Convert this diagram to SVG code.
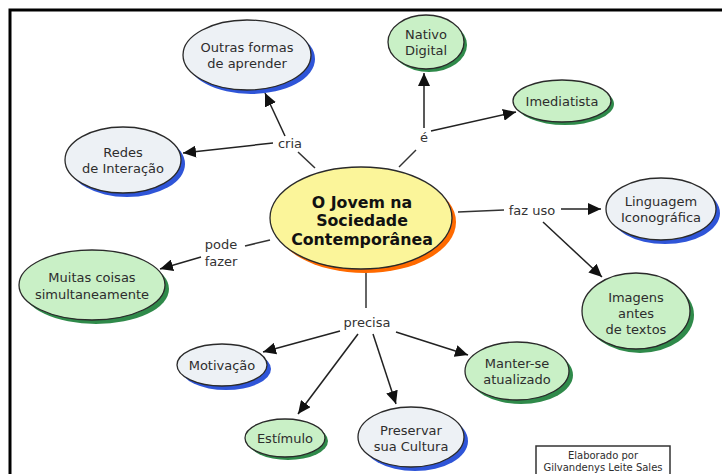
<svg xmlns="http://www.w3.org/2000/svg" width="722" height="474" viewBox="0 0 722 474">
<defs>
<marker id="arr" markerUnits="userSpaceOnUse" markerWidth="14" markerHeight="12" refX="13" refY="6" orient="auto">
<path d="M0,0 L13,6 L0,12 Z" fill="#111"/>
</marker>
<style>
.blue .sh{fill:#2f55d8}
.blue .bd{fill:#edf1f5;stroke:#2a2a2a;stroke-width:1.3}
.green .sh{fill:#2f8a4a}
.green .bd{fill:#c9f0c6;stroke:#2a2a2a;stroke-width:1.3}
.t{font-family:"DejaVu Sans",Verdana,sans-serif;font-size:13px;fill:#2d2d2d;text-anchor:middle;dominant-baseline:central}
.lbl{font-family:"DejaVu Sans",Verdana,sans-serif;font-size:13px;fill:#333;text-anchor:middle;dominant-baseline:central}
.ln{stroke:#333;stroke-width:1.5;fill:none}
.ar{stroke:#222;stroke-width:1.5;fill:none;marker-end:url(#arr)}
</style>
</defs>
<rect width="722" height="474" fill="#fff"/>
<path d="M10,474 V10 H722" fill="none" stroke="#000" stroke-width="3"/>

<g id="connectors">
<line class="ln" x1="315" y1="168" x2="298" y2="152"/>
<line class="ar" x1="285" y1="136" x2="265" y2="93"/>
<line class="ar" x1="273" y1="143" x2="183" y2="153"/>
<line class="ln" x1="399" y1="167" x2="416" y2="150"/>
<line class="ar" x1="424" y1="128" x2="424" y2="73"/>
<line class="ar" x1="431" y1="131" x2="516" y2="112"/>
<line class="ln" x1="458" y1="212" x2="504" y2="210"/>
<line class="ar" x1="561" y1="209" x2="601" y2="209"/>
<line class="ar" x1="543" y1="222" x2="602" y2="277"/>
<line class="ln" x1="270" y1="240" x2="245" y2="246"/>
<line class="ar" x1="201" y1="257" x2="160" y2="269"/>
<line class="ln" x1="366" y1="272" x2="366" y2="308"/>
<line class="ar" x1="340" y1="331" x2="263" y2="352"/>
<line class="ar" x1="358" y1="334" x2="298" y2="414"/>
<line class="ar" x1="373" y1="334" x2="396" y2="404"/>
<line class="ar" x1="396" y1="332" x2="468" y2="355"/>
<text class="lbl" x="290" y="143">cria</text>
<text class="lbl" x="424" y="137">é</text>
<text class="lbl" x="532" y="210">faz uso</text>
<text class="lbl" x="221" y="244">pode</text>
<text class="lbl" x="221" y="261">fazer</text>
<text class="lbl" x="367" y="322">precisa</text>
</g>

<g id="center">
<ellipse cx="365" cy="222" rx="91" ry="51" fill="#ff6a00"/>
<ellipse cx="361" cy="218" rx="91" ry="51" fill="#fbf59a" stroke="#2a2a2a" stroke-width="1.3"/>
<text class="t" x="362" y="202" style="font-weight:bold;font-size:15.8px;fill:#111">O Jovem na</text>
<text class="t" x="362" y="220" style="font-weight:bold;font-size:15.8px;fill:#111">Sociedade</text>
<text class="t" x="362" y="239" style="font-weight:bold;font-size:15.8px;fill:#111">Contemporânea</text>
</g>

<g id="outras" class="blue">
<ellipse class="sh" cx="251" cy="59" rx="64" ry="35"/>
<ellipse class="bd" cx="247" cy="55" rx="64" ry="35"/>
<text class="t" x="247" y="47">Outras formas</text>
<text class="t" x="247" y="63">de aprender</text>
</g>

<g id="redes" class="blue">
<ellipse class="sh" cx="127" cy="164" rx="58" ry="33"/>
<ellipse class="bd" cx="123" cy="160" rx="58" ry="33"/>
<text class="t" x="123" y="152">Redes</text>
<text class="t" x="123" y="168">de Interação</text>
</g>

<g id="nativo" class="green">
<ellipse class="sh" cx="429" cy="45" rx="38" ry="27"/>
<ellipse class="bd" cx="426" cy="42" rx="38" ry="27"/>
<text class="t" x="426" y="34">Nativo</text>
<text class="t" x="426" y="50">Digital</text>
</g>

<g id="imediatista" class="green">
<ellipse class="sh" cx="565" cy="104" rx="49" ry="21"/>
<ellipse class="bd" cx="562" cy="101" rx="49" ry="21"/>
<text class="t" x="562" y="101">Imediatista</text>
</g>

<g id="linguagem" class="blue">
<ellipse class="sh" cx="665" cy="213" rx="55" ry="31"/>
<ellipse class="bd" cx="661" cy="209" rx="55" ry="31"/>
<text class="t" x="661" y="201">Linguagem</text>
<text class="t" x="661" y="217">Iconográfica</text>
</g>

<g id="imagens" class="green">
<ellipse class="sh" cx="640" cy="315" rx="54" ry="38"/>
<ellipse class="bd" cx="636" cy="311" rx="54" ry="38"/>
<text class="t" x="636" y="297">Imagens</text>
<text class="t" x="636" y="313">antes</text>
<text class="t" x="636" y="329">de textos</text>
</g>

<g id="muitas" class="green">
<ellipse class="sh" cx="96" cy="289" rx="73" ry="35"/>
<ellipse class="bd" cx="92" cy="285" rx="73" ry="35"/>
<text class="t" x="92" y="277">Muitas coisas</text>
<text class="t" x="92" y="294">simultaneamente</text>
</g>

<g id="motivacao" class="blue">
<ellipse class="sh" cx="226" cy="369" rx="45" ry="21"/>
<ellipse class="bd" cx="222" cy="365" rx="45" ry="21"/>
<text class="t" x="222" y="365">Motivação</text>
</g>

<g id="estimulo" class="green">
<ellipse class="sh" cx="288" cy="441" rx="40" ry="19"/>
<ellipse class="bd" cx="285" cy="438" rx="40" ry="19"/>
<text class="t" x="285" y="438">Estímulo</text>
</g>

<g id="preservar" class="blue">
<ellipse class="sh" cx="415" cy="441" rx="53" ry="30"/>
<ellipse class="bd" cx="411" cy="437" rx="53" ry="30"/>
<text class="t" x="411" y="430">Preservar</text>
<text class="t" x="411" y="446">sua Cultura</text>
</g>

<g id="manter" class="green">
<ellipse class="sh" cx="521" cy="375" rx="52" ry="29"/>
<ellipse class="bd" cx="517" cy="371" rx="52" ry="29"/>
<text class="t" x="517" y="363">Manter-se</text>
<text class="t" x="517" y="379">atualizado</text>
</g>

<g id="credit">
<rect x="536" y="446" width="134" height="40" fill="#fff" stroke="#333" stroke-width="1.5"/>
<text class="t" x="603" y="455" style="font-size:10px">Elaborado por</text>
<text class="t" x="603" y="467" style="font-size:10px">Gilvandenys Leite Sales</text>
</g>
</svg>
